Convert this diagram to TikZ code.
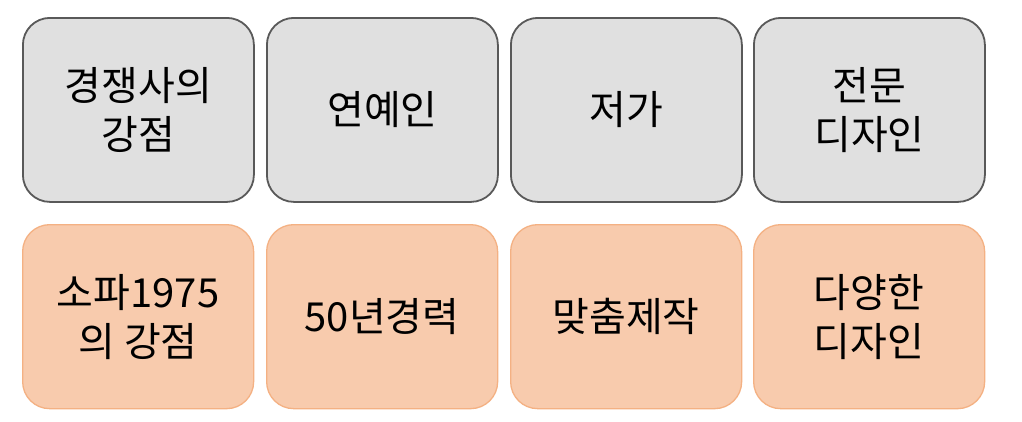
\documentclass[tikz,border=0pt]{standalone}
\usepackage{fontspec}
\setmainfont{Noto Sans CJK KR}
\begin{document}
\begin{tikzpicture}[x=1pt,y=-1pt,
  card/.style={rounded corners=27pt, line width=1.8pt, minimum width=231pt, minimum height=184pt, align=center, inner sep=0pt,
    font=\fontsize{40}{49}\selectfont, anchor=north west},
  grey/.style={card, fill={rgb,255:red,224;green,224;blue,224}, draw={rgb,255:red,89;green,89;blue,89}},
  peach/.style={card, fill={rgb,255:red,248;green,203;blue,173}, draw={rgb,255:red,244;green,177;blue,131}, line width=1.3pt}]
\useasboundingbox[fill=white] (0,0) rectangle (1022,421);
\node[grey] (a1) at (22,17) {경쟁사의\\강점};
\node[grey] (a2) at (266,17) {연예인};
\node[grey] (a3) at (510,17) {저가};
\node[grey] (a4) at (753,17) {전문\\디자인};
\node[peach] (b1) at (22,224) {소파1975\\의 강점};
\node[peach] (b2) at (266,224) {50년경력};
\node[peach] (b3) at (510,224) {맞춤제작};
\node[peach] (b4) at (753,224) {다양한\\디자인};
\end{tikzpicture}
\end{document}
